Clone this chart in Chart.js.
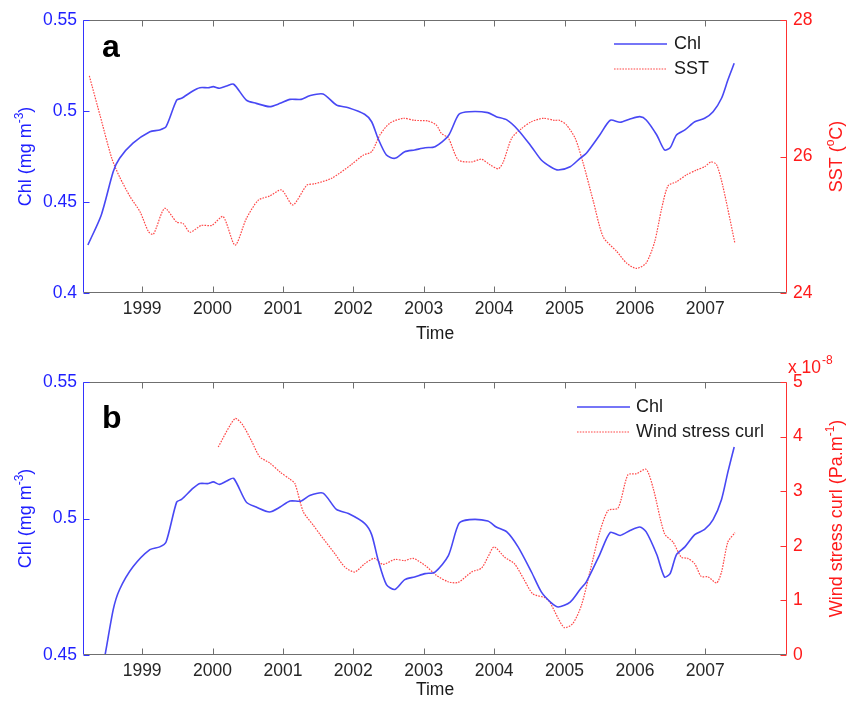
<!DOCTYPE html>
<html><head><meta charset="utf-8">
<script src="https://cdn.jsdelivr.net/npm/chart.js@4.4.0/dist/chart.umd.min.js"></script>
<style>
html,body{margin:0;padding:0;background:#fff;}
#wrap{position:relative;width:859px;height:702px;overflow:hidden;}
canvas{position:absolute;left:0;}
#c1{top:0;}
#c2{top:351px;}
</style></head><body>
<div id="wrap"><canvas id="c1" width="859" height="351"></canvas><canvas id="c2" width="859" height="351"></canvas></div>
<script>
// ---------- data ----------
const yearTicks = [1999, 2000, 2001, 2002, 2003, 2004, 2005, 2006, 2007];
const chlTicksA = [0.4, 0.45, 0.5, 0.55];
const sstTicks = [24, 26, 28];
const chlTicksB = [0.45, 0.5, 0.55];
const wscTicks = [0, 1, 2, 3, 4, 5];

const chlYears = [1998.23,1998.42,1998.59,1998.68,1998.87,1999.11,1999.25,1999.34,1999.49,1999.56,1999.72,1999.82,1999.94,2000.01,2000.10,2000.20,2000.30,2000.48,2000.62,2000.81,2000.96,2001.10,2001.26,2001.38,2001.57,2001.76,2001.93,2002.16,2002.26,2002.35,2002.47,2002.59,2002.73,2002.87,2003.02,2003.16,2003.35,2003.50,2003.65,2003.91,2004.03,2004.18,2004.34,2004.53,2004.67,2004.80,2004.91,2005.08,2005.22,2005.31,2005.50,2005.65,2005.79,2005.93,2006.07,2006.16,2006.31,2006.42,2006.50,2006.59,2006.71,2006.85,2006.99,2007.11,2007.23,2007.32,2007.41];
const chlValues = [0.4264,0.4429,0.4667,0.4740,0.4823,0.4886,0.4896,0.4914,0.5060,0.5070,0.5110,0.5128,0.5128,0.5134,0.5125,0.5137,0.5147,0.5060,0.5042,0.5024,0.5042,0.5064,0.5064,0.5084,0.5093,0.5033,0.5018,0.4982,0.4941,0.4850,0.4758,0.4740,0.4776,0.4786,0.4798,0.4804,0.4864,0.4982,0.4996,0.4991,0.4969,0.4951,0.4896,0.4804,0.4731,0.4694,0.4676,0.4694,0.4740,0.4768,0.4868,0.4949,0.4938,0.4956,0.4969,0.4951,0.4868,0.4786,0.4798,0.4868,0.4896,0.4941,0.4960,0.4996,0.5070,0.5170,0.5262];

const sstYears = [1998.25,1998.40,1998.57,1998.68,1998.83,1998.97,1999.09,1999.16,1999.32,1999.49,1999.58,1999.68,1999.84,1999.99,2000.15,2000.32,2000.48,2000.65,2000.81,2000.98,2001.14,2001.34,2001.45,2001.69,2001.97,2002.14,2002.26,2002.38,2002.52,2002.71,2002.87,2003.06,2003.18,2003.25,2003.35,2003.49,2003.68,2003.82,2003.94,2004.06,2004.13,2004.25,2004.39,2004.53,2004.70,2004.86,2004.93,2005.03,2005.15,2005.26,2005.41,2005.55,2005.74,2005.88,2006.02,2006.16,2006.28,2006.38,2006.47,2006.59,2006.73,2006.87,2006.99,2007.08,2007.16,2007.25,2007.42];
const sstValues = [27.18,26.61,25.97,25.70,25.41,25.19,24.90,24.86,25.24,25.04,25.02,24.89,24.99,24.99,25.12,24.70,25.09,25.36,25.42,25.51,25.29,25.58,25.60,25.68,25.88,26.02,26.07,26.32,26.49,26.56,26.53,26.52,26.46,26.34,26.27,25.95,25.92,25.96,25.88,25.82,25.92,26.27,26.41,26.51,26.56,26.53,26.53,26.46,26.27,25.92,25.34,24.82,24.61,24.44,24.36,24.44,24.75,25.24,25.57,25.63,25.73,25.80,25.85,25.92,25.88,25.56,24.73];

// wind stress curl, in units of 1e-8 Pa.m^-1
const wscYears = [2000.08,2000.32,2000.43,2000.55,2000.67,2000.81,2000.96,2001.10,2001.17,2001.29,2001.43,2001.52,2001.74,2001.88,2002.02,2002.16,2002.30,2002.42,2002.59,2002.73,2002.85,2003.02,2003.18,2003.35,2003.49,2003.68,2003.82,2003.91,2004.00,2004.15,2004.29,2004.43,2004.55,2004.72,2004.79,2004.91,2005.00,2005.12,2005.24,2005.36,2005.50,2005.62,2005.76,2005.90,2006.02,2006.16,2006.26,2006.42,2006.54,2006.66,2006.75,2006.85,2006.94,2007.04,2007.16,2007.23,2007.32,2007.42];
const wscValues = [3.81,4.33,4.21,3.93,3.63,3.52,3.35,3.22,3.14,2.62,2.38,2.22,1.85,1.61,1.52,1.67,1.77,1.66,1.75,1.73,1.77,1.64,1.46,1.34,1.33,1.52,1.59,1.79,1.98,1.79,1.67,1.37,1.12,1.05,0.97,0.67,0.50,0.58,0.91,1.52,2.25,2.65,2.69,3.30,3.32,3.40,3.05,2.22,2.07,1.79,1.77,1.67,1.44,1.43,1.32,1.52,2.07,2.24];

// ---------- styling ----------
const FONT = '"Liberation Sans", Arial, Helvetica, sans-serif';
const BLUE_LINE = '#4848f4';
const RED_LINE = '#ff4646';
const BLUE_AX = '#3434ff';
const RED_AX = '#ff3030';
const BLUE_TXT = '#1f1fff';
const RED_TXT = '#ff1a1a';
const GRAY = '#6f6f6f';

const pts = (xs, ys) => xs.map((x, i) => ({x: x, y: ys[i]}));

function drawRich(ctx, parts, cx, cy, rot, color, fs) {
  ctx.save();
  ctx.translate(cx, cy);
  ctx.rotate(rot);
  ctx.fillStyle = color;
  ctx.textBaseline = 'alphabetic';
  ctx.textAlign = 'left';
  const sfs = Math.round(fs * 0.68);
  let w = 0;
  parts.forEach(p => { ctx.font = (p.sup ? sfs : fs) + 'px ' + FONT; p.w = ctx.measureText(p.t).width; w += p.w; });
  let x = -w / 2;
  const base = fs * 0.36;
  parts.forEach(p => {
    ctx.font = (p.sup ? sfs : fs) + 'px ' + FONT;
    ctx.fillText(p.t, x, p.sup ? base - fs * 0.48 : base);
    x += p.w;
  });
  ctx.restore();
}

const decor = {
  id: 'decor',
  afterDraw(chart, args, o) {
    const {ctx, chartArea: a, scales} = chart;
    const L = Math.round(a.left) + 0.5, R = Math.round(a.right) - 0.5;
    const T = Math.round(a.top) + 0.5, B = Math.round(a.bottom) - 0.5;
    ctx.save();
    ctx.lineWidth = 1;
    const seg = (x1, y1, x2, y2, c) => { ctx.strokeStyle = c; ctx.beginPath(); ctx.moveTo(x1, y1); ctx.lineTo(x2, y2); ctx.stroke(); };
    // frame
    seg(L, T, R, T, GRAY);
    seg(L, B, R, B, GRAY);
    seg(L, T, L, B, BLUE_AX);
    seg(R, T, R, B, RED_AX);
    const tl = 6;
    scales.x.ticks.forEach(t => {
      const px = Math.round(scales.x.getPixelForValue(t.value)) + 0.5;
      seg(px, B, px, B - tl, GRAY);
      seg(px, T, px, T + tl, GRAY);
    });
    scales.y.ticks.forEach(t => {
      const py = Math.round(scales.y.getPixelForValue(t.value)) + 0.5;
      seg(L, py, L + tl, py, BLUE_AX);
    });
    scales.y2.ticks.forEach(t => {
      const py = Math.round(scales.y2.getPixelForValue(t.value)) + 0.5;
      seg(R, py, R - tl, py, RED_AX);
    });
    // panel letter
    ctx.fillStyle = '#000';
    ctx.font = 'bold 32px ' + FONT;
    ctx.textBaseline = 'alphabetic';
    ctx.textAlign = 'left';
    ctx.fillText(o.letter, o.letterX, o.letterY);
    // x title
    ctx.fillStyle = '#1a1a1a';
    ctx.font = '17.5px ' + FONT;
    ctx.textAlign = 'center';
    ctx.textBaseline = 'middle';
    ctx.fillText('Time', (a.left + a.right) / 2, o.timeY);
    // y titles
    const cy = (a.top + a.bottom) / 2;
    drawRich(ctx, o.leftTitle, 25, cy, -Math.PI / 2, BLUE_TXT, 18);
    drawRich(ctx, o.rightTitle, 836, cy, -Math.PI / 2, RED_TXT, 18);
    // exponent
    if (o.exponent) {
      ctx.fillStyle = RED_TXT;
      ctx.textAlign = 'left';
      ctx.textBaseline = 'alphabetic';
      ctx.font = '17.5px ' + FONT;
      ctx.fillText('x 10', o.exponent.x, o.exponent.y);
      const w = ctx.measureText('x 10').width;
      ctx.font = '12px ' + FONT;
      ctx.fillText('-8', o.exponent.x + w + 1, o.exponent.y - 9);
    }
    // legend
    const lg = o.legend;
    chart.data.datasets.forEach((ds, i) => {
      const y = lg.rows[i];
      ctx.strokeStyle = ds.borderColor;
      ctx.lineWidth = ds.borderWidth;
      ctx.setLineDash(ds.borderDash || []);
      ctx.beginPath(); ctx.moveTo(lg.x0, y); ctx.lineTo(lg.x1, y); ctx.stroke();
      ctx.setLineDash([]);
      ctx.fillStyle = '#1a1a1a';
      ctx.font = '18px ' + FONT;
      ctx.textAlign = 'left';
      ctx.textBaseline = 'middle';
      ctx.fillText(ds.label, lg.tx, y);
    });
    ctx.restore();
  }
};

function makeChart(id, cfg) {
  const fixTicks = arr => s => { s.ticks = arr.map(v => ({value: v})); };
  return new Chart(document.getElementById(id), {
    type: 'line',
    data: {datasets: [
      {label: 'Chl', data: pts(chlYears, chlValues), yAxisID: 'y', borderColor: BLUE_LINE, borderWidth: 1.6, pointRadius: 0, tension: 0.25, fill: false},
      {label: cfg.redLabel, data: pts(cfg.redX, cfg.redY), yAxisID: 'y2', borderColor: RED_LINE, borderWidth: 1.2, borderDash: [1.6, 1.2], pointRadius: 0, tension: 0.25, fill: false}
    ]},
    options: {
      responsive: false, animation: false, devicePixelRatio: 1,
      parsing: true,
      layout: {padding: {top: cfg.top, left: 0, right: 0, bottom: 0}},
      plugins: {legend: {display: false}, tooltip: {enabled: false}, decor: cfg.decor},
      scales: {
        x: {type: 'linear', position: 'bottom', min: 1998.16, max: 2008.16,
            afterBuildTicks: fixTicks(yearTicks),
            afterFit: s => { s.height = cfg.xh; },
            grid: {display: false, drawTicks: false}, border: {display: false},
            ticks: {color: '#262626', font: {family: FONT, size: 17.5}, padding: 6, maxRotation: 0, autoSkip: false, callback: v => String(v)}},
        y: {type: 'linear', position: 'left', min: cfg.yMin, max: cfg.yMax,
            afterBuildTicks: fixTicks(cfg.yTicks),
            afterFit: s => { s.width = 83; },
            grid: {display: false, drawTicks: false}, border: {display: false},
            ticks: {color: BLUE_TXT, font: {family: FONT, size: 17.5}, padding: 6, callback: v => String(+v.toFixed(2))}},
        y2: {type: 'linear', position: 'right', min: cfg.y2Min, max: cfg.y2Max,
            afterBuildTicks: fixTicks(cfg.y2Ticks),
            afterFit: s => { s.width = 72; },
            grid: {display: false, drawTicks: false}, border: {display: false},
            ticks: {color: RED_TXT, font: {family: FONT, size: 17.5}, padding: 6, callback: v => String(v)}}
      }
    },
    plugins: [decor]
  });
}

makeChart('c1', {
  top: 20, xh: 58, yMin: 0.4, yMax: 0.55, yTicks: chlTicksA, y2Min: 24, y2Max: 28, y2Ticks: sstTicks,
  redLabel: 'SST', redX: sstYears, redY: sstValues,
  decor: {letter: 'a', letterX: 102, letterY: 57, timeY: 334.5,
    leftTitle: [{t: 'Chl (mg m'}, {t: '-3', sup: true}, {t: ')'}],
    rightTitle: [{t: 'SST ('}, {t: 'o', sup: true}, {t: 'C)'}],
    legend: {x0: 614, x1: 667, tx: 674, rows: [44, 69]}}
});

makeChart('c2', {
  top: 31, xh: 47, yMin: 0.45, yMax: 0.55, yTicks: chlTicksB, y2Min: 0, y2Max: 5, y2Ticks: wscTicks,
  redLabel: 'Wind stress curl', redX: wscYears, redY: wscValues,
  decor: {letter: 'b', letterX: 102, letterY: 77, timeY: 339,
    leftTitle: [{t: 'Chl (mg m'}, {t: '-3', sup: true}, {t: ')'}],
    rightTitle: [{t: 'Wind stress curl (Pa.m'}, {t: '-1', sup: true}, {t: ')'}],
    exponent: {x: 788, y: 22},
    legend: {x0: 577, x1: 630, tx: 636, rows: [56, 81]}}
});
</script>
</body></html>
